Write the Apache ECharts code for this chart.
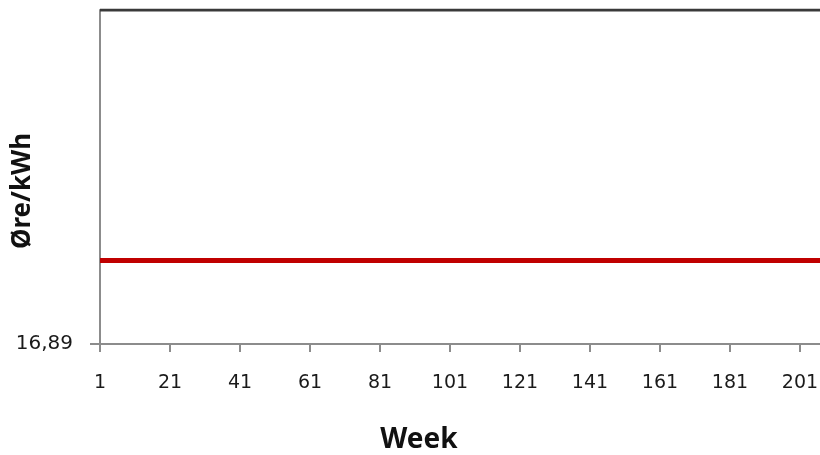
<!DOCTYPE html>
<html>
<head>
<meta charset="utf-8">
<script src="https://cdn.jsdelivr.net/npm/echarts@6/dist/echarts.min.js"></script>
<style>
  html, body { margin: 0; padding: 0; background: #fff; }
  #chart { width: 820px; height: 455px; }
</style>
</head>
<body>
<div id="chart"></div>
<script>
// Weekly price per kWh, week 1 .. 209
const weeks = [];
for (let w = 1; w <= 209; w++) weeks.push(String(w));

// Constant price level (øre/kWh) for every week
const priceLevel = 17.14;
const priceValues = weeks.map(() => priceLevel);

// Upper reference level, sits on the top edge of the value range
const upperLevel = 17.89;
const upperValues = weeks.map(() => upperLevel);

const yMin = 16.89;
const yMax = 17.89;
const yTickLabels = ['16,89'];

const chart = echarts.init(document.getElementById('chart'));
chart.setOption({
  animation: false,
  backgroundColor: '#ffffff',
  grid: { left: 100, right: -8, top: 10, bottom: 111, containLabel: false, outerBoundsMode: 'none' },
  xAxis: {
    type: 'category',
    data: weeks,
    boundaryGap: false,
    name: 'Week',
    nameLocation: 'middle',
    nameGap: 82,
    nameMoveOverlap: false,
    nameTextStyle: { fontFamily: 'Noto Sans', fontWeight: 'bold', fontSize: 28, color: '#111', padding: [0, 90, 0, 0] },
    axisLine: { lineStyle: { color: '#8c8c8c', width: 2 } },
    axisTick: { interval: 19, length: 8, lineStyle: { color: '#8c8c8c', width: 2 } },
    axisLabel: { interval: 19, margin: 30, fontFamily: 'DejaVu Sans', fontSize: 19, color: '#1a1a1a' },
    splitLine: { show: false }
  },
  yAxis: {
    type: 'value',
    min: yMin,
    max: yMax,
    name: 'Øre/kWh',
    nameLocation: 'middle',
    nameGap: 64,
    nameRotate: 90,
    nameMoveOverlap: false,
    nameTextStyle: { fontFamily: 'Noto Sans', fontWeight: 'bold', fontSize: 26, color: '#111', padding: [0, 28, 0, 0] },
    axisLine: { show: true, lineStyle: { color: '#8c8c8c', width: 2 } },
    axisTick: { show: true, length: 10, customValues: [yMin], lineStyle: { color: '#8c8c8c', width: 2 } },
    axisLabel: {
      customValues: [yMin],
      margin: 27,
      padding: [10, 0, 0, 0],
      fontFamily: 'DejaVu Sans', fontSize: 20, color: '#1a1a1a',
      formatter: (v) => (Math.abs(v - yMin) < 1e-9 ? yTickLabels[0] : '')
    },
    splitLine: { show: false }
  },
  series: [
    {
      name: 'Upper',
      type: 'line',
      data: upperValues,
      showSymbol: false,
      lineStyle: { color: '#3a3a3a', width: 3 },
      silent: true
    },
    {
      name: 'Price',
      type: 'line',
      data: priceValues,
      showSymbol: false,
      lineStyle: { color: '#c00000', width: 5 },
      silent: true
    }
  ]
});
</script>
</body>
</html>
